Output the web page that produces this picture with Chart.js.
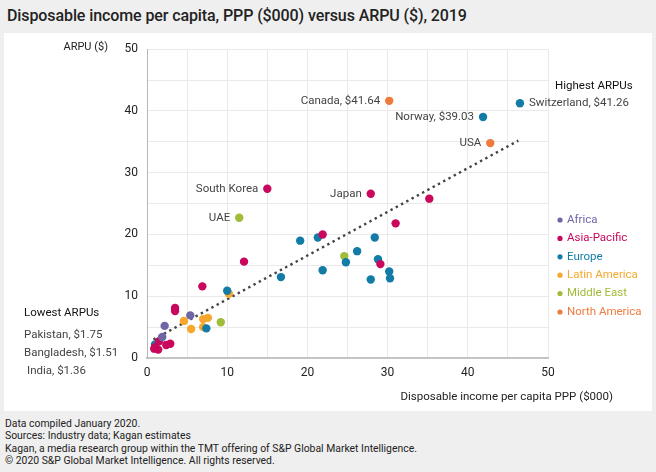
<!DOCTYPE html>
<html>
<head>
<meta charset="utf-8">
<script src="https://cdn.jsdelivr.net/npm/chart.js@4.4.0/dist/chart.umd.min.js"></script>
<style>
  body { margin: 0; background: #efefef; width: 656px; height: 472px; overflow: hidden; position: relative; }
  #title { position: absolute; left: 7px; top: 6px; font-family: "Roboto", sans-serif; font-weight: 500; font-size: 16px; letter-spacing: -0.1px; color: #222; white-space: nowrap; }
  #panel { position: absolute; left: 4px; top: 33px; width: 648px; height: 378px; background: #fff; }
  #footer { position: absolute; left: 5px; top: 418px; font-family: "Roboto", sans-serif; font-size: 10.4px; line-height: 12.4px; color: #222; }
</style>
</head>
<body>
<div id="title">Disposable income per capita, PPP ($000) versus ARPU ($), 2019</div>
<div id="panel"><canvas id="incomeChart" width="648" height="378"></canvas></div>
<div id="footer">
  Data compiled January 2020.<br>
  Sources: Industry data; Kagan estimates<br>
  Kagan, a media research group within the TMT offering of S&amp;P Global Market Intelligence.<br>
  © 2020 S&amp;P Global Market Intelligence. All rights reserved.
</div>
<script>
// disposable income per capita PPP ($000) vs ARPU ($)
const regions = ['Africa', 'Asia-Pacific', 'Europe', 'Latin America', 'Middle East', 'North America'];
const regionColors = ['#6f66a6', '#c8075d', '#127ca6', '#f7a82c', '#a0bc38', '#f07a3e'];

const africaX = [5.4, 2.2, 1.9];
const africaY = [6.9, 5.2, 3.4];

const asiaX = [15.0, 27.9, 35.2, 31.0, 21.9, 29.1, 12.1, 6.9, 3.5, 3.5, 1.5, 2.4, 2.9, 1.0, 0.9, 1.4];
const asiaY = [27.4, 26.6, 25.8, 21.8, 20.0, 15.2, 15.6, 11.6, 8.1, 7.6, 2.7, 2.1, 2.3, 1.75, 1.51, 1.36];

const europeX = [46.5, 41.9, 28.4, 26.2, 24.8, 28.8, 30.2, 30.3, 27.9, 19.1, 21.3, 16.7, 21.9, 10.0, 7.4, 1.0];
const europeY = [41.26, 39.03, 19.5, 17.3, 15.5, 16.0, 14.0, 12.9, 12.7, 19.0, 19.5, 13.1, 14.2, 10.9, 4.8, 2.2];

const latamX = [10.2, 4.6, 7.0, 7.6, 5.5, 7.0];
const latamY = [10.4, 6.0, 6.3, 6.5, 4.7, 5.0];

const middleEastX = [11.5, 24.6, 9.2, 1.2];
const middleEastY = [22.7, 16.5, 5.8, 1.6];

const northAmericaX = [30.2, 42.8];
const northAmericaY = [41.64, 34.8];

const trendX = [0.8, 46.3];
const trendY = [3.0, 35.2];

// labelled countries: text, dataset index, point index
const calloutText = ['Canada, $41.64', 'Switzerland, $41.26', 'Norway, $39.03', 'USA', 'South Korea', 'Japan', 'UAE'];
const calloutSeries = [5, 2, 2, 5, 1, 1, 4];
const calloutPoint = [0, 0, 1, 1, 0, 1, 0];

const lowestLabels = ['Pakistan, $1.75', 'Bangladesh, $1.51', 'India, $1.36'];

const seriesX = [africaX, asiaX, europeX, latamX, middleEastX, northAmericaX];
const seriesY = [africaY, asiaY, europeY, latamY, middleEastY, northAmericaY];

function toPoints(xs, ys) {
    return xs.map((x, i) => ({ x: x, y: ys[i] }));
}

const datasets = regions.map((name, i) => ({
    label: name,
    data: toPoints(seriesX[i], seriesY[i]),
    backgroundColor: regionColors[i],
    borderWidth: 0,
    pointRadius: 4.2,
    pointHoverRadius: 4.2
}));

datasets.push({
    type: 'line',
    label: 'Trend',
    data: toPoints(trendX, trendY),
    borderColor: '#444',
    borderWidth: 2.4,
    borderDash: [2.4, 3.6],
    pointRadius: 0,
    fill: false
});

const FONT = 'Roboto, sans-serif';

const annotations = {
    id: 'annotations',
    afterDatasetsDraw(chart) {
        const ctx = chart.ctx;
        ctx.save();
        ctx.textBaseline = 'middle';
        ctx.font = '11.5px ' + FONT;
        ctx.fillStyle = '#444';

        // country callouts
        calloutText.forEach((txt, i) => {
            const pt = chart.getDatasetMeta(calloutSeries[i]).data[calloutPoint[i]];
            if (txt.startsWith('Switzerland')) {
                ctx.textAlign = 'left';
                ctx.fillText(txt, pt.x + 9, pt.y);
            } else {
                ctx.textAlign = 'right';
                ctx.fillText(txt, pt.x - 9, pt.y);
            }
        });

        // axis titles
        ctx.fillStyle = '#222';
        ctx.textAlign = 'right';
        ctx.font = '11px ' + FONT;
        ctx.fillText('ARPU ($)', 104, 14);
        ctx.font = '11.5px ' + FONT;
        ctx.fillText('Disposable income per capita PPP ($000)', 609, 364);

        // highest / lowest
        ctx.textAlign = 'left';
        ctx.fillStyle = '#111';
        ctx.fillText('Highest ARPUs', 551, 53);
        ctx.fillText('Lowest ARPUs', 20, 280);
        ctx.fillStyle = '#444';
        ctx.fillText(lowestLabels[0], 20, 302);
        ctx.fillText(lowestLabels[1], 20, 320);
        ctx.fillText(lowestLabels[2], 23, 338);

        // legend
        regions.forEach((name, i) => {
            const y = 187 + i * 18.4;
            ctx.fillStyle = regionColors[i];
            ctx.beginPath();
            ctx.arc(556, y, 2.6, 0, Math.PI * 2);
            ctx.fill();
            ctx.fillText(name, 563, y);
        });
        ctx.restore();
    }
};

new Chart(document.getElementById('incomeChart'), {
    type: 'scatter',
    data: { datasets: datasets },
    options: {
        responsive: false,
        animation: false,
        layout: { padding: { left: 0, top: 15, right: 104, bottom: 0 } },
        plugins: {
            legend: { display: false },
            tooltip: { enabled: false }
        },
        scales: {
            x: {
                type: 'linear',
                min: 0,
                max: 50,
                afterFit: (scale) => { scale.height = 53; },
                grid: { color: '#e9e9e9', drawTicks: false },
                border: { color: '#c4c4c4', width: 2 },
                ticks: {
                    stepSize: 5,
                    padding: 8,
                    color: '#222',
                    font: { family: FONT, size: 12 },
                    callback: (v) => (v % 10 === 0 ? v : '')
                }
            },
            y: {
                min: 0,
                max: 50,
                afterFit: (scale) => { scale.width = 143; },
                grid: { color: '#e9e9e9', drawTicks: false },
                border: { color: '#b8b8b8', width: 1 },
                ticks: {
                    stepSize: 5,
                    padding: 9,
                    color: '#222',
                    font: { family: FONT, size: 12 },
                    callback: (v) => (v % 10 === 0 ? v : '')
                }
            }
        }
    },
    plugins: [annotations]
});
</script>
</body>
</html>
